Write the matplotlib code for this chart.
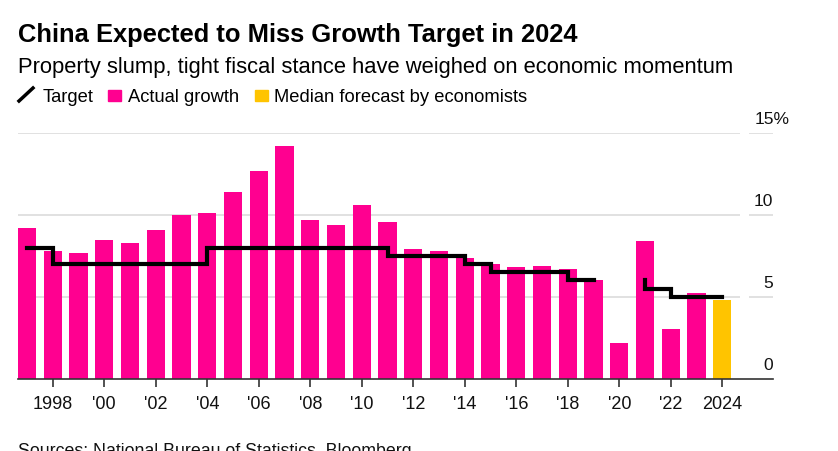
import matplotlib.pyplot as plt
from matplotlib.lines import Line2D
from matplotlib.patches import Rectangle
import numpy as np

plt.rcParams['font.family'] = ['Liberation Sans', 'DejaVu Sans']

# === 資料 ===
years = list(range(1997, 2025))
actual = [9.2, 7.8, 7.7, 8.5, 8.3, 9.1, 10.0, 10.1, 11.4, 12.7, 14.2, 9.7, 9.4, 10.6,
          9.6, 7.9, 7.8, 7.4, 7.0, 6.8, 6.9, 6.7, 6.0, 2.2, 8.4, 3.0, 5.2, None]
forecast_year = 2024
forecast = 4.8
target = [8, 8, 7, 7, 7, 7, 7, 7, 8, 8, 8, 8, 8, 8,
          8, 7.5, 7.5, 7.5, 7, 6.5, 6.5, 6.5, 6, None, 6, 5.5, 5, 5]
y_ticks = [0, 5, 10, 15]
x_ticks = list(range(1998, 2025, 2))
x_labels = ["1998"] + ["'" + str(y)[2:] for y in x_ticks[1:-1]] + ["2024"]

PINK = "#ff0090"
YELLOW = "#ffc400"
W, H = 838, 452


def px(x, y):
    # 像素座標 -> figure 比例
    return x / W, 1 - y / H


fig = plt.figure(figsize=(W / 100, H / 100), dpi=100)
left, bottom = px(18, 379.5)
right, top = px(773, 134.3)
ax = fig.add_axes([left, bottom, right - left, top - bottom])

x0 = 1996.65
x1 = x0 + (773 - 18) / 25.75
ax.set_xlim(x0, x1)
ax.set_ylim(0, 15)

# 格線
grid_end = x0 + (740 - 18) / 25.75
tick_start = x0 + (749 - 18) / 25.75
for v in y_ticks[1:]:
    ax.hlines(v, x0, grid_end, color="#dcdcdc", lw=1.2, zorder=0)
    ax.hlines(v, tick_start, x1, color="#dcdcdc", lw=1.2, zorder=0)
for v in y_ticks[:-1]:
    ax.text(x1, v + 0.6, str(v), ha="right", va="baseline", fontsize=12.5, color="#111111")
# 最上面的標籤帶 %，數字對齊其他標籤
ax.text(x0 + (755 - 18) / 25.75, y_ticks[-1] + 0.6, f"{y_ticks[-1]}%",
        ha="left", va="baseline", fontsize=12.5, color="#111111")

# 長條
yrs = np.array(years)
act = np.array([np.nan if v is None else v for v in actual], dtype=float)
ax.bar(yrs, act, width=0.7, color=PINK, zorder=2)
ax.bar([forecast_year], [forecast], width=0.7, color=YELLOW, zorder=2)

# 目標線（2020 年沒有目標，分兩段畫）
tgt = np.array([np.nan if v is None else v for v in target], dtype=float)
gap = years.index(2020)
for sl in [slice(0, gap), slice(gap + 1, None)]:
    ax.plot(yrs[sl], tgt[sl], drawstyle="steps-pre", color="black", lw=3,
            solid_joinstyle="miter", zorder=3)

# 座標軸
for s in ["left", "right", "top"]:
    ax.spines[s].set_visible(False)
ax.spines["bottom"].set_color("#333333")
ax.spines["bottom"].set_linewidth(1.2)
ax.set_yticks([])
ax.set_xticks(x_ticks)
ax.set_xticklabels(x_labels, fontsize=13, color="#111111")
ax.tick_params(axis="x", length=6, width=1.2, color="#333333", pad=6)

# 標題
fig.text(*px(18, 42), "China Expected to Miss Growth Target in 2024",
         fontsize=18.4, fontweight="bold", ha="left", va="baseline")
fig.text(*px(18, 73), "Property slump, tight fiscal stance have weighed on economic momentum",
         fontsize=15.8, ha="left", va="baseline")

# 圖例
fig.add_artist(Line2D([19 / W, 33 / W], [1 - 102 / H, 1 - 89 / H], color="black", lw=2.5,
                      transform=fig.transFigure))
fig.text(*px(43, 102), "Target", fontsize=13.2, ha="left", va="baseline")
fig.add_artist(Rectangle(px(108, 102), 13 / W, 11 / H, color=PINK, transform=fig.transFigure))
fig.text(*px(128, 102), "Actual growth", fontsize=13.2, ha="left", va="baseline")
fig.add_artist(Rectangle(px(255, 102), 13 / W, 11 / H, color=YELLOW, transform=fig.transFigure))
fig.text(*px(274, 102), "Median forecast by economists", fontsize=13.2, ha="left", va="baseline")

# 資料來源（底部被裁掉，和原圖一樣）
fig.text(*px(18, 456), "Sources: National Bureau of Statistics, Bloomberg",
         fontsize=12.8, ha="left", va="baseline", color="#111111")

fig.savefig("out.png", dpi=100)
